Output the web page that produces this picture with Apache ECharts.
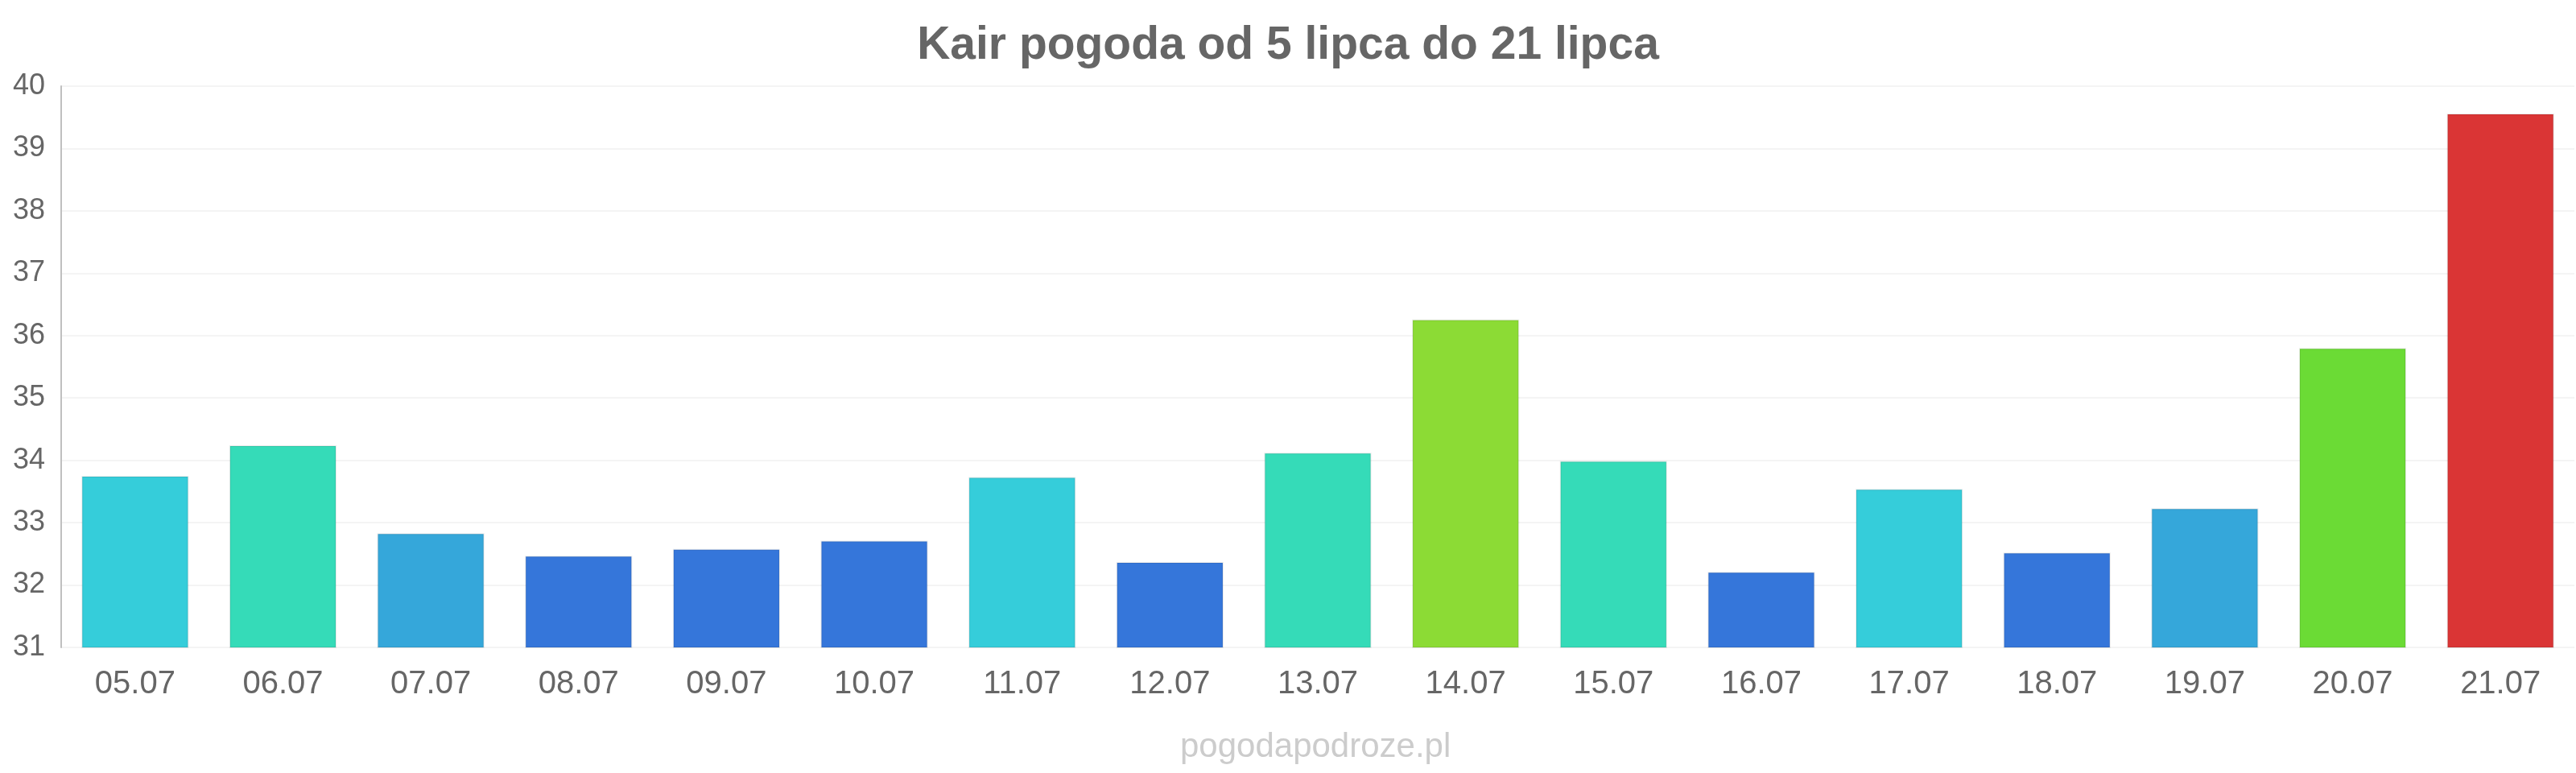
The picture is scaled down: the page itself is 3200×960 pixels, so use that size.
<!DOCTYPE html>
<html>
<head>
<meta charset="utf-8">
<script src="https://cdn.jsdelivr.net/npm/echarts@6/dist/echarts.min.js"></script>
<style>
  html, body { margin: 0; padding: 0; background: #fff; }
  #chart { width: 3200px; height: 960px; }
</style>
</head>
<body>
<div id="chart"></div>
<script>
// dni (etykiety osi X)
const days = ["05.07", "06.07", "07.07", "08.07", "09.07", "10.07", "11.07", "12.07", "13.07",
  "14.07", "15.07", "16.07", "17.07", "18.07", "19.07", "20.07", "21.07"];
// temperatura maksymalna
const temps = [33.75, 34.24, 32.83, 32.47, 32.58, 32.71, 33.73, 32.37, 34.12,
  36.26, 33.99, 32.21, 33.54, 32.52, 33.23, 35.80, 39.56];
// skala osi Y
const yMin = 31;
const yMax = 40;

const chart = echarts.init(document.getElementById('chart'));
chart.setOption({
  animation: false,
  textStyle: { fontFamily: 'Liberation Sans, Arial, sans-serif' },
  title: {
    text: 'Kair pogoda od 5 lipca do 21 lipca',
    left: 'center',
    top: 24,
    textStyle: { fontSize: 57, fontWeight: 'bold', color: '#666666' }
  },
  grid: { left: 76, right: 2, top: 107, bottom: 156, containLabel: false },
  // kolory słupków zależne od temperatury
  visualMap: {
    show: false,
    type: 'piecewise',
    dimension: 1,
    pieces: [
      { lt: 32.75, color: '#3576da' },
      { gte: 32.75, lt: 33.4, color: '#35a7da' },
      { gte: 33.4, lt: 33.9, color: '#35cdda' },
      { gte: 33.9, lt: 35, color: '#35dbb8' },
      { gte: 35, lt: 36, color: '#6bdb35' },
      { gte: 36, lt: 37, color: '#8cdb35' },
      { gte: 37, color: '#da3535' }
    ]
  },
  xAxis: {
    type: 'category',
    data: days,
    axisLine: { show: false },
    axisTick: { show: false },
    axisLabel: { fontSize: 40, color: '#666666', margin: 26 }
  },
  yAxis: {
    type: 'value',
    min: yMin,
    max: yMax,
    interval: 1,
    axisLine: { show: true, lineStyle: { color: '#c0c0c0', width: 2 } },
    axisTick: { show: false },
    axisLabel: { fontSize: 36, color: '#666666', margin: 20 },
    splitLine: { show: true, lineStyle: { color: '#f4f4f4', width: 2 } }
  },
  series: [{
    type: 'bar',
    data: temps,
    barCategoryGap: '27.5%',
    itemStyle: { borderColor: 'rgba(0,0,0,0.08)', borderWidth: 2 }
  }],
  graphic: [{
    type: 'text',
    left: 1637 - 171,
    top: 907,
    style: {
      text: 'pogodapodroze.pl',
      fontSize: 42,
      fontFamily: 'Liberation Sans, Arial, sans-serif',
      fill: '#cccccc'
    }
  }]
});
</script>
</body>
</html>
